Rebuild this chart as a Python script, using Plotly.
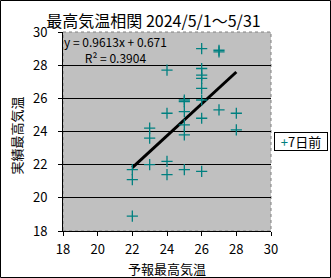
import plotly.graph_objects as go

# Data
forecast = [22, 22, 22,
            23, 23, 23,
            24, 24, 24, 24,
            25, 25, 25, 25, 25, 25,
            26, 26, 26, 26, 26, 26, 26, 26,
            27, 27, 27,
            28, 28]
actual = [21.7, 21.1, 18.9,
          24.2, 23.6, 22.0,
          27.7, 25.1, 22.2, 21.4,
          25.8, 25.9, 25.2, 24.4, 23.8, 21.7,
          29.0, 27.8, 27.4, 27.2, 26.6, 25.9, 24.8, 21.6,
          28.8, 28.9, 25.3,
          25.1, 24.1]
series_name = "7日前"
slope = 0.9613
intercept = 0.671
r2 = 0.3904
title_text = "最高気温相関 2024/5/1～5/31"
x_title = "予報最高気温"
y_title = "実績最高気温"
tick_vals = [18, 20, 22, 24, 26, 28, 30]

FONT = "Noto Sans CJK JP, Noto Sans, sans-serif"
TEAL = "#008080"

trend_x = [min(forecast), max(forecast)]
trend_y = [slope * v + intercept for v in trend_x]

fig = go.Figure()
fig.add_trace(go.Scatter(
    x=trend_x, y=trend_y, mode="lines",
    line=dict(color="black", width=3), showlegend=False, hoverinfo="skip"))
fig.add_trace(go.Scatter(
    x=forecast, y=actual, mode="markers", name=series_name,
    marker=dict(symbol="cross-thin", size=8, line=dict(color=TEAL, width=1.3), color=TEAL),
    showlegend=False))

fig.update_layout(
    width=331, height=278,
    margin=dict(l=63, r=60, t=32, b=47),
    paper_bgcolor="white", plot_bgcolor="#C0C0C0",
    font=dict(family=FONT, size=13, color="black"),
    title=dict(text=title_text, x=153.5 / 331, xref="container", xanchor="center",
               y=1 - 21 / 278, yanchor="middle", font=dict(size=16, family=FONT)),
    showlegend=False,
)
fig.update_xaxes(range=[18, 30], tickvals=tick_vals, showgrid=False, zeroline=False,
                 showline=True, linecolor="black", linewidth=1,
                 ticks="outside", ticklen=4, tickcolor="black",
                 tickfont=dict(size=13), ticklabelstandoff=2)
fig.update_yaxes(range=[18, 30], tickvals=tick_vals, showgrid=True, gridcolor="black", gridwidth=1,
                 zeroline=False, showline=True, linecolor="black", linewidth=1,
                 ticks="outside", ticklen=4, tickcolor="black",
                 tickfont=dict(size=13), ticklabelstandoff=8)

# plot area border (dotted grey) and outer chart border
fig.add_shape(type="rect", xref="paper", yref="paper", x0=0, x1=1, y0=0, y1=1,
              line=dict(color="#808080", width=1, dash="dot"), layer="below")
fig.add_shape(type="rect", xref="paper", yref="paper", xsizemode="pixel", ysizemode="pixel",
              xanchor=0, yanchor=0, x0=-62.5, x1=267.5, y0=-46.5, y1=230.5,
              line=dict(color="black", width=1))

fig.add_annotation(text=f"y = {slope}x + {intercept}<br>R² = {r2}",
                   xref="paper", yref="paper", x=(115 - 63) / 208, y=(231 - 49.5) / 199,
                   xanchor="center", yanchor="middle", showarrow=False,
                   align="center", font=dict(size=12, family=FONT))
fig.add_annotation(text=x_title, xref="paper", yref="paper", x=0.5, y=(231 - 268) / 199,
                   showarrow=False, font=dict(size=13, family=FONT), yanchor="middle")
fig.add_annotation(text=y_title, xref="paper", yref="paper", x=(16 - 63) / 208, y=0.48,
                   textangle=-90, showarrow=False, font=dict(size=13, family=FONT),
                   xanchor="center", yanchor="middle")
fig.add_annotation(text=f"<span style='color:{TEAL}'>+</span>{series_name}",
                   xref="paper", yref="paper", x=(274 - 63) / 208, y=(231 - 141.5) / 199,
                   xanchor="left", yanchor="middle", showarrow=False,
                   width=50, height=15, align="center",
                   bordercolor="black", borderwidth=1, borderpad=1, bgcolor="white",
                   font=dict(size=13, family=FONT))

fig.write_html("out.html")
